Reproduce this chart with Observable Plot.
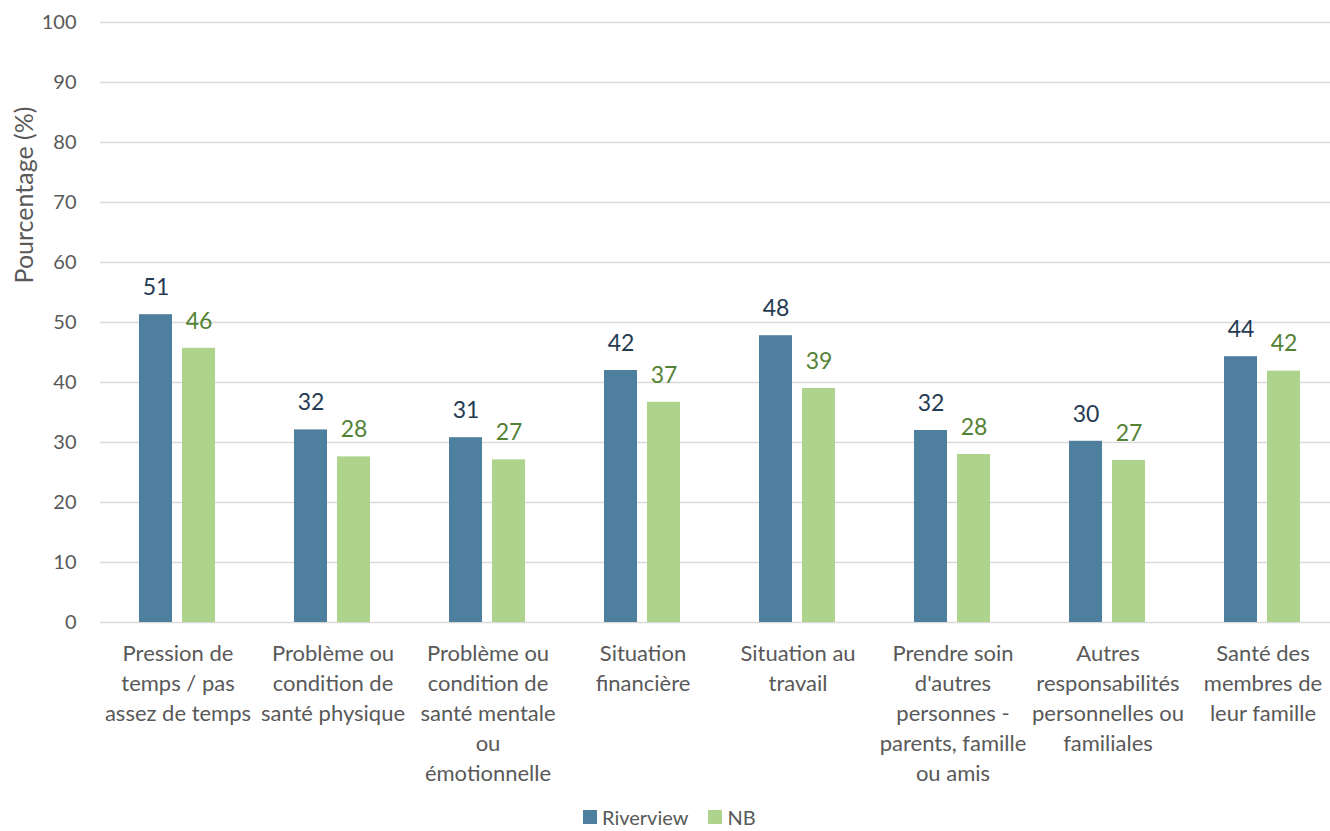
<!DOCTYPE html>
<html>
<head>
<meta charset="utf-8">
<script src="https://cdn.jsdelivr.net/npm/d3@7"></script>
<script src="https://cdn.jsdelivr.net/npm/@observablehq/plot@0.6"></script>
<style>
  html, body { margin: 0; padding: 0; background: #fff; }
  #wrap { position: relative; width: 1330px; height: 831px; overflow: hidden; font-family: Lato, "Open Sans", sans-serif; color: #595959; }
  #ytitle { position: absolute; left: 23px; top: 195px; transform: translate(-50%, -50%) rotate(-90deg); font-size: 25px; white-space: nowrap; }
  #legend { position: absolute; top: 807px; left: 583px; display: flex; align-items: center; font-size: 20px; line-height: 20px; }
  .sw { width: 14px; height: 14px; display: inline-block; margin-right: 5px; }
  .item { display: flex; align-items: center; margin-right: 20px; }
</style>
</head>
<body>
<div id="wrap">
  <div id="chart"></div>
  <div id="ytitle">Pourcentage (%)</div>
  <div id="legend"></div>
</div>
<script>
const categories = [
  "Pression de temps / pas assez de temps",
  "Problème ou condition de santé physique",
  "Problème ou condition de santé mentale ou émotionnelle",
  "Situation financière",
  "Situation au travail",
  "Prendre soin d'autres personnes - parents, famille ou amis",
  "Autres responsabilités personnelles ou familiales",
  "Santé des membres de leur famille"
];
const categoryLines = [
  ["Pression de", "temps / pas", "assez de temps"],
  ["Problème ou", "condition de", "santé physique"],
  ["Problème ou", "condition de", "santé mentale", "ou", "émotionnelle"],
  ["Situation", "financière"],
  ["Situation au", "travail"],
  ["Prendre soin", "d'autres", "personnes -", "parents, famille", "ou amis"],
  ["Autres", "responsabilités", "personnelles ou", "familiales"],
  ["Santé des", "membres de", "leur famille"]
];
const series = ["Riverview", "NB"];
const riverview = [51.3, 32.1, 30.8, 42.0, 47.8, 32.0, 30.2, 44.3];
const nb = [45.7, 27.6, 27.1, 36.7, 39.0, 28.0, 27.0, 41.9];
const yTicks = [0, 10, 20, 30, 40, 50, 60, 70, 80, 90, 100];

const barColors = {Riverview: "#4F7F9E", NB: "#ADD38C"};
const labelColors = {Riverview: "#243B53", NB: "#548235"};

const data = [];
categories.forEach((c, i) => {
  data.push({cat: c, series: "Riverview", value: riverview[i]});
  data.push({cat: c, series: "NB", value: nb[i]});
});
const lineMap = new Map(categories.map((c, i) => [c, categoryLines[i].join("\n")]));

const chart = Plot.plot({
  width: 1330,
  height: 805,
  marginLeft: 97,
  marginRight: 0,
  marginTop: 22,
  marginBottom: 183,
  style: {fontFamily: "Lato, 'Open Sans', sans-serif", fontSize: "20px", color: "#595959", background: "white", overflow: "visible"},
  fx: {domain: categories, range: [97, 1343], padding: 0, axis: null},
  x: {domain: series, paddingInner: 0.227, paddingOuter: 0.883, axis: null},
  y: {domain: [0, 100], ticks: yTicks, tickSize: 0, tickPadding: 24, label: null},
  marks: [
    Plot.ruleY(yTicks, {stroke: "#D9D9D9", strokeWidth: 1.5}),
    Plot.barY(data.filter(d => d.series === "Riverview"), {fx: "cat", x: "series", y: "value", fill: barColors.Riverview}),
    Plot.barY(data.filter(d => d.series === "NB"), {fx: "cat", x: "series", y: "value", fill: barColors.NB}),
    Plot.text(data.filter(d => d.series === "Riverview"), {fx: "cat", x: "series", y: "value", text: d => String(Math.round(d.value)), dy: -27, fill: labelColors.Riverview, fontSize: 23}),
    Plot.text(data.filter(d => d.series === "NB"), {fx: "cat", x: "series", y: "value", text: d => String(Math.round(d.value)), dy: -27, fill: labelColors.NB, fontSize: 23}),
    Plot.text(categories, {fx: d => d, text: d => lineMap.get(d), frameAnchor: "bottom", lineAnchor: "top", dy: 17, lineHeight: 1.364, fill: "#595959", fontSize: 22})
  ]
});
document.getElementById("chart").appendChild(chart);

const legend = document.getElementById("legend");
series.forEach(s => {
  const it = document.createElement("div");
  it.className = "item";
  const sw = document.createElement("span");
  sw.className = "sw";
  sw.style.background = barColors[s];
  it.appendChild(sw);
  it.appendChild(document.createTextNode(s));
  legend.appendChild(it);
});
</script>
</body>
</html>
